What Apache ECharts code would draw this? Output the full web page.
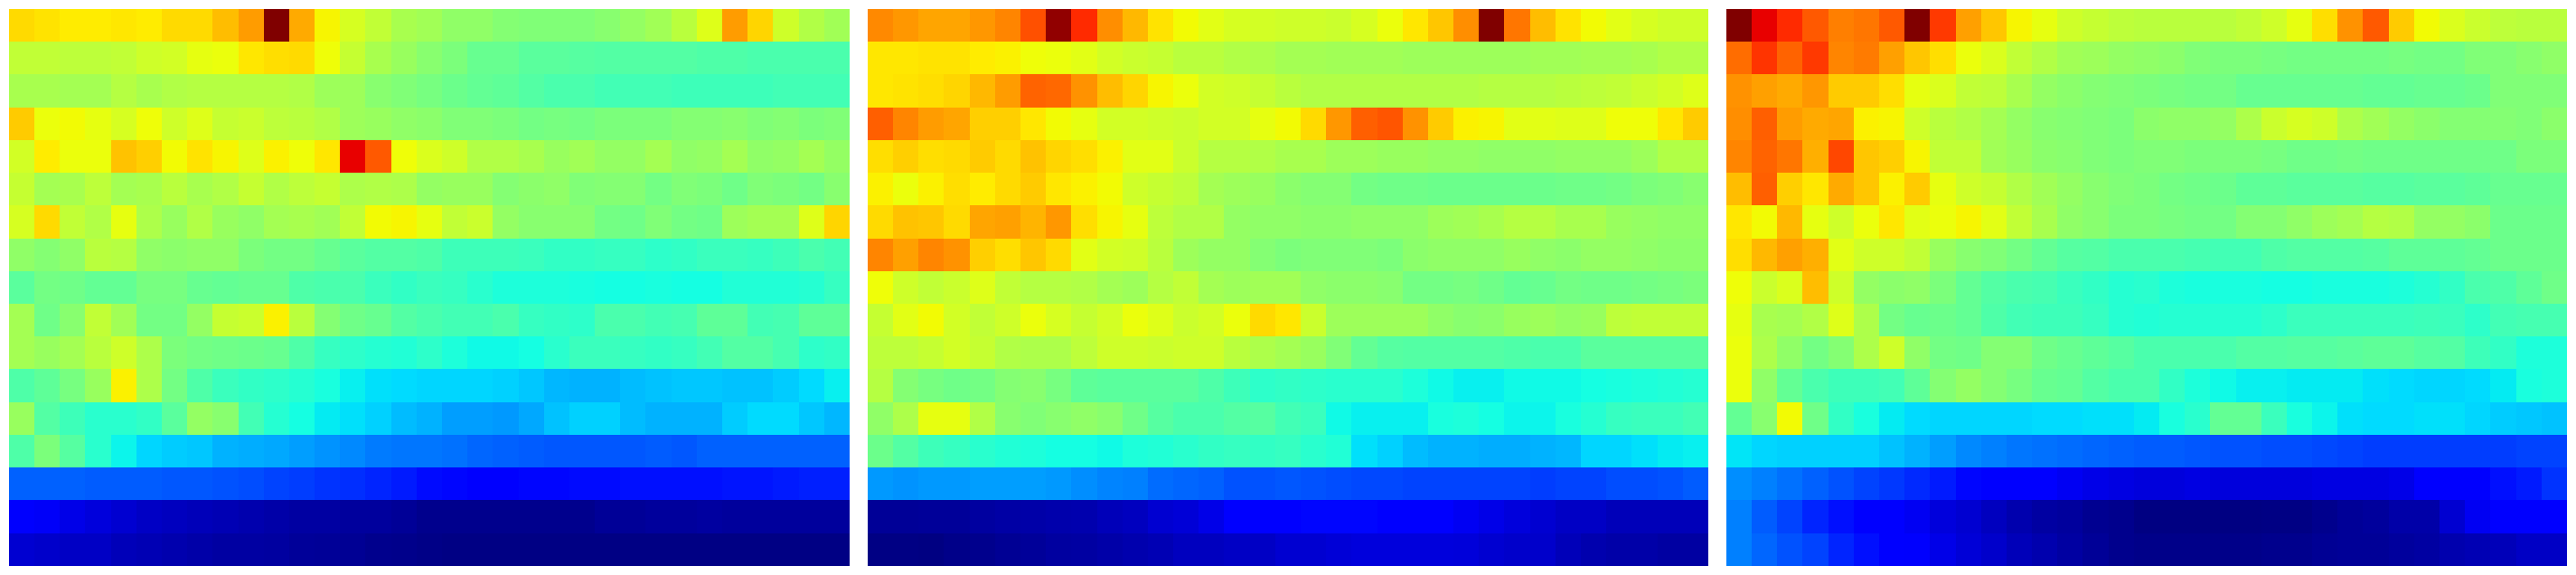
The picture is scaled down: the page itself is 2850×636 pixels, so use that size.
<!DOCTYPE html>
<html>
<head>
<meta charset="utf-8">
<style>html,body{margin:0;padding:0;background:#fff}#c{width:2850px;height:636px}</style>
<script src="https://cdn.jsdelivr.net/npm/echarts@6/dist/echarts.min.js"></script>
</head>
<body>
<div id="c"></div>
<script>
const panelA = [
[.68,.67,.66,.66,.665,.66,.68,.68,.71,.745,1,.73,.65,.61,.585,.555,.545,.525,.525,.51,.505,.505,.505,.515,.53,.545,.575,.62,.745,.685,.6,.565,.545],
[.585,.585,.58,.58,.585,.6,.605,.63,.635,.665,.675,.68,.64,.59,.555,.535,.515,.5,.475,.475,.46,.46,.455,.45,.45,.45,.45,.445,.445,.44,.44,.44,.44],
[.555,.555,.55,.55,.57,.555,.565,.57,.57,.57,.57,.565,.54,.54,.515,.505,.495,.48,.47,.465,.45,.44,.44,.43,.43,.43,.425,.425,.425,.425,.43,.43,.43],
[.695,.635,.645,.63,.61,.64,.6,.62,.59,.595,.58,.575,.565,.54,.535,.525,.52,.505,.505,.5,.49,.495,.49,.5,.5,.5,.51,.51,.515,.505,.51,.5,.505],
[.605,.66,.635,.635,.705,.69,.645,.67,.65,.62,.655,.64,.665,.91,.815,.64,.615,.6,.565,.565,.555,.535,.545,.53,.53,.55,.525,.53,.55,.525,.53,.55,.53],
[.59,.55,.555,.58,.55,.555,.575,.555,.565,.59,.565,.58,.59,.56,.565,.56,.53,.535,.535,.51,.52,.525,.505,.51,.51,.49,.505,.5,.485,.505,.5,.49,.515],
[.61,.68,.585,.565,.63,.56,.535,.565,.535,.525,.55,.555,.545,.585,.645,.65,.63,.585,.595,.53,.515,.515,.515,.49,.485,.505,.49,.485,.54,.55,.55,.62,.685],
[.525,.51,.525,.575,.57,.525,.52,.525,.525,.5,.49,.49,.475,.46,.45,.45,.445,.425,.425,.425,.42,.41,.41,.415,.415,.405,.41,.42,.42,.415,.425,.44,.43],
[.46,.49,.485,.47,.47,.495,.495,.475,.47,.475,.475,.445,.44,.44,.42,.41,.42,.415,.4,.385,.385,.385,.38,.375,.375,.38,.375,.375,.39,.39,.39,.395,.415],
[.55,.485,.515,.585,.545,.49,.49,.53,.59,.595,.655,.575,.51,.485,.475,.45,.44,.43,.43,.44,.415,.41,.405,.44,.44,.43,.435,.465,.465,.43,.435,.465,.465],
[.55,.535,.55,.575,.6,.56,.5,.49,.485,.48,.475,.445,.415,.405,.395,.39,.405,.385,.37,.37,.375,.4,.42,.42,.415,.41,.415,.43,.45,.45,.435,.405,.41],
[.445,.465,.495,.535,.655,.56,.49,.445,.42,.41,.405,.395,.38,.36,.345,.34,.335,.335,.335,.33,.32,.305,.3,.3,.31,.315,.32,.32,.315,.315,.325,.34,.36],
[.535,.45,.425,.4,.4,.41,.46,.53,.515,.43,.395,.375,.355,.345,.33,.31,.3,.28,.28,.275,.29,.315,.33,.33,.31,.3,.3,.3,.325,.34,.34,.32,.305],
[.445,.5,.455,.4,.365,.335,.325,.32,.3,.295,.29,.28,.27,.26,.245,.24,.24,.235,.225,.22,.215,.21,.21,.21,.21,.215,.21,.22,.22,.22,.22,.22,.22],
[.22,.22,.22,.215,.215,.215,.21,.21,.205,.2,.19,.185,.175,.17,.16,.15,.135,.13,.125,.125,.13,.13,.135,.135,.14,.14,.14,.14,.145,.145,.15,.155,.155],
[.11,.105,.09,.08,.07,.06,.055,.05,.045,.04,.035,.03,.03,.025,.025,.02,.012,.012,.012,.012,.012,.012,.012,.02,.02,.024,.024,.028,.024,.024,.024,.024,.024],
[.07,.065,.06,.06,.05,.045,.04,.035,.03,.03,.028,.022,.02,.018,.012,.01,.006,.004,.004,.004,.004,.004,.004,.004,.004,.004,.004,.004,.004,.004,.004,.004,.004]
];
const panelB = [
[.765,.75,.735,.735,.75,.77,.825,.985,.865,.76,.715,.67,.645,.625,.61,.605,.6,.6,.595,.61,.635,.665,.7,.76,1,.785,.71,.67,.645,.625,.61,.6,.6],
[.665,.665,.67,.67,.66,.655,.64,.635,.625,.605,.595,.59,.575,.575,.565,.56,.55,.55,.545,.545,.545,.54,.54,.54,.54,.54,.545,.545,.55,.55,.555,.565,.565],
[.665,.67,.675,.685,.715,.745,.805,.8,.755,.71,.685,.65,.635,.605,.6,.59,.575,.565,.565,.565,.565,.565,.565,.565,.57,.57,.57,.575,.58,.585,.595,.605,.62],
[.81,.77,.745,.735,.69,.69,.665,.645,.63,.605,.605,.6,.595,.605,.605,.63,.645,.68,.75,.81,.82,.755,.695,.655,.65,.625,.625,.62,.62,.64,.64,.665,.695],
[.675,.69,.675,.68,.695,.68,.705,.685,.675,.655,.625,.625,.595,.57,.57,.565,.555,.555,.54,.54,.535,.535,.53,.53,.525,.525,.525,.53,.53,.53,.54,.565,.565],
[.655,.635,.655,.675,.66,.68,.695,.665,.655,.645,.6,.59,.58,.55,.54,.535,.52,.51,.51,.49,.485,.485,.48,.48,.48,.48,.48,.485,.485,.49,.5,.505,.515],
[.68,.705,.7,.68,.735,.74,.72,.75,.675,.65,.63,.58,.565,.565,.53,.525,.525,.52,.52,.525,.525,.525,.54,.545,.555,.57,.57,.555,.555,.535,.53,.525,.525],
[.77,.74,.77,.755,.69,.675,.7,.68,.625,.605,.6,.575,.54,.53,.53,.51,.5,.505,.505,.505,.5,.52,.525,.525,.525,.535,.525,.52,.53,.53,.525,.52,.52],
[.64,.6,.585,.595,.62,.585,.57,.57,.565,.55,.54,.57,.585,.55,.54,.545,.545,.525,.52,.52,.515,.49,.49,.495,.485,.47,.475,.49,.485,.485,.49,.495,.5],
[.59,.625,.645,.605,.585,.6,.635,.61,.59,.605,.635,.62,.595,.605,.635,.68,.665,.595,.54,.54,.54,.54,.525,.515,.52,.535,.54,.53,.535,.58,.585,.585,.585],
[.58,.58,.59,.605,.59,.565,.56,.56,.58,.6,.6,.595,.6,.6,.575,.56,.55,.535,.505,.47,.455,.45,.45,.45,.45,.445,.44,.44,.46,.46,.46,.46,.46],
[.57,.51,.495,.485,.49,.51,.515,.495,.465,.46,.46,.46,.46,.445,.425,.405,.41,.405,.4,.4,.4,.385,.37,.36,.36,.37,.37,.37,.375,.38,.385,.39,.395],
[.525,.56,.63,.63,.565,.515,.505,.515,.525,.515,.485,.455,.44,.44,.45,.455,.43,.42,.37,.36,.36,.36,.38,.385,.375,.365,.365,.38,.395,.415,.42,.42,.43],
[.48,.45,.425,.415,.4,.39,.385,.375,.375,.37,.385,.39,.4,.41,.415,.41,.415,.4,.39,.345,.33,.31,.3,.3,.295,.295,.3,.305,.335,.335,.345,.355,.36],
[.275,.27,.275,.275,.28,.28,.28,.275,.265,.255,.25,.23,.225,.22,.205,.205,.21,.205,.2,.195,.195,.19,.19,.19,.19,.19,.185,.19,.19,.2,.2,.205,.215],
[.02,.02,.022,.022,.028,.032,.035,.038,.04,.05,.055,.07,.075,.09,.115,.125,.125,.13,.13,.13,.12,.125,.125,.1,.09,.08,.07,.06,.06,.05,.05,.05,.05],
[.004,.004,.002,.008,.012,.018,.022,.028,.03,.035,.04,.045,.055,.055,.06,.06,.07,.07,.075,.08,.08,.08,.08,.078,.07,.065,.065,.05,.04,.035,.035,.03,.03]
];
const panelC = [
[1,.91,.865,.815,.775,.785,.815,1,.85,.74,.7,.65,.63,.6,.59,.58,.575,.575,.575,.575,.585,.6,.63,.675,.755,.815,.695,.645,.615,.595,.58,.575,.575],
[.795,.855,.805,.85,.77,.78,.74,.7,.675,.635,.615,.585,.565,.545,.54,.53,.525,.52,.505,.5,.5,.495,.49,.49,.49,.49,.495,.49,.49,.505,.505,.515,.525],
[.755,.74,.73,.75,.695,.695,.675,.63,.615,.585,.58,.555,.53,.52,.51,.505,.5,.495,.49,.49,.475,.475,.475,.475,.475,.47,.47,.475,.475,.48,.505,.505,.505],
[.76,.81,.745,.73,.735,.655,.65,.6,.575,.565,.55,.53,.515,.51,.505,.5,.52,.525,.525,.53,.56,.595,.61,.6,.56,.545,.53,.52,.51,.51,.51,.505,.52],
[.77,.805,.785,.725,.835,.7,.69,.65,.585,.585,.545,.535,.52,.515,.505,.5,.505,.505,.5,.5,.5,.495,.485,.485,.49,.485,.485,.485,.485,.485,.485,.5,.5],
[.71,.81,.69,.665,.73,.7,.655,.695,.63,.6,.59,.565,.545,.53,.515,.505,.5,.49,.485,.48,.465,.465,.46,.46,.46,.455,.455,.46,.46,.465,.475,.475,.475],
[.665,.645,.715,.63,.6,.635,.665,.625,.635,.65,.625,.585,.555,.525,.515,.5,.5,.495,.49,.49,.51,.51,.525,.54,.55,.57,.565,.53,.53,.52,.48,.48,.48],
[.675,.715,.74,.725,.625,.6,.6,.585,.535,.515,.505,.49,.47,.455,.45,.44,.44,.44,.435,.43,.43,.445,.45,.45,.45,.455,.465,.465,.465,.47,.48,.48,.48],
[.64,.595,.615,.71,.6,.53,.52,.525,.5,.47,.45,.44,.435,.42,.41,.395,.4,.385,.38,.38,.38,.375,.375,.38,.38,.38,.385,.395,.41,.44,.445,.465,.485],
[.63,.555,.55,.565,.62,.56,.49,.475,.48,.47,.445,.43,.425,.425,.415,.395,.39,.395,.395,.395,.395,.405,.42,.42,.42,.42,.42,.425,.42,.405,.43,.435,.435],
[.635,.56,.525,.49,.51,.56,.6,.525,.49,.485,.51,.51,.485,.475,.465,.455,.44,.44,.44,.44,.45,.45,.455,.455,.46,.465,.465,.455,.45,.425,.41,.385,.385],
[.635,.525,.47,.44,.425,.425,.43,.465,.51,.53,.51,.495,.475,.47,.45,.44,.44,.41,.385,.37,.36,.36,.355,.355,.355,.345,.34,.335,.335,.34,.355,.38,.385],
[.47,.515,.645,.485,.41,.38,.355,.34,.335,.335,.335,.335,.34,.34,.345,.345,.355,.38,.4,.47,.47,.42,.38,.365,.345,.34,.34,.345,.345,.335,.325,.32,.315],
[.35,.335,.33,.33,.33,.33,.315,.3,.28,.26,.25,.24,.235,.23,.225,.22,.215,.215,.21,.205,.205,.2,.2,.195,.19,.185,.185,.185,.185,.185,.185,.19,.19],
[.265,.25,.235,.22,.205,.19,.18,.165,.15,.13,.125,.115,.115,.1,.09,.085,.08,.08,.085,.08,.08,.08,.08,.085,.085,.085,.09,.125,.125,.125,.14,.15,.175],
[.25,.215,.19,.16,.14,.12,.115,.1,.08,.07,.055,.04,.03,.025,.015,.012,.002,.002,.002,.002,.002,.004,.004,.012,.02,.024,.035,.035,.07,.1,.125,.125,.125],
[.25,.225,.205,.19,.16,.14,.125,.11,.09,.075,.065,.05,.04,.03,.02,.012,.008,.008,.008,.008,.008,.012,.012,.018,.02,.02,.025,.03,.04,.045,.05,.06,.06]
];
const panels = [panelA, panelB, panelC];
const panelLeft = [10, 960, 1910];

// Jet colour map, as piecewise channel ramps sampled into evenly spaced stops.
const ramp = (pts, t) => {
  for (let i = 1; i < pts.length; i++) {
    if (t <= pts[i][0]) {
      const [a, va] = pts[i - 1], [b, vb] = pts[i];
      return va + (vb - va) * (t - a) / (b - a);
    }
  }
  return pts[pts.length - 1][1];
};
const R = [[0,0],[.35,0],[.66,1],[.89,1],[1,.5]];
const G = [[0,0],[.125,0],[.375,1],[.64,1],[.91,0],[1,0]];
const B = [[0,.5],[.11,1],[.34,1],[.65,0],[1,0]];
const jet = [];
for (let i = 0; i <= 256; i++) {
  const t = i / 256, c = x => Math.round(255 * ramp(x, t));
  jet.push(`rgb(${c(R)},${c(G)},${c(B)})`);
}

// Draw each cell through the axis scales, snapped to whole pixels so edges are crisp.
const snap = v => Math.round(v - 0.1);
const renderCell = (params, api) => {
  const [cx, cy] = api.coord([api.value(0), api.value(1)]);
  const [w, h] = api.size([1, 1]);
  const x0 = snap(cx - w / 2), x1 = snap(cx + w / 2);
  const y0 = snap(cy - h / 2), y1 = snap(cy + h / 2);
  return {
    type: 'rect',
    shape: {x: x0, y: y0, width: x1 - x0, height: y1 - y0},
    style: {fill: api.visual('color')},
    silent: true
  };
};

const chart = echarts.init(document.getElementById('c'), null, {renderer: 'canvas'});
const cols = panelA[0].map((_, i) => String(i));
const rows = panelA.map((_, i) => String(i));
chart.setOption({
  animation: false,
  backgroundColor: '#fff',
  tooltip: {show: false},
  grid: panelLeft.map(l => ({left: l, top: 10, width: 930, height: 616})),
  xAxis: panelLeft.map((_, i) => ({type: 'category', gridIndex: i, data: cols, show: false})),
  yAxis: panelLeft.map((_, i) => ({type: 'category', gridIndex: i, data: rows, inverse: true, show: false})),
  visualMap: {type: 'continuous', show: false, min: 0, max: 1, dimension: 2, inRange: {color: jet}},
  series: panels.map((p, i) => ({
    type: 'custom',
    coordinateSystem: 'cartesian2d',
    xAxisIndex: i,
    yAxisIndex: i,
    progressive: 0,
    renderItem: renderCell,
    encode: {x: 0, y: 1},
    data: p.flatMap((row, y) => row.map((v, x) => [x, y, v]))
  }))
});
</script>
</body>
</html>
